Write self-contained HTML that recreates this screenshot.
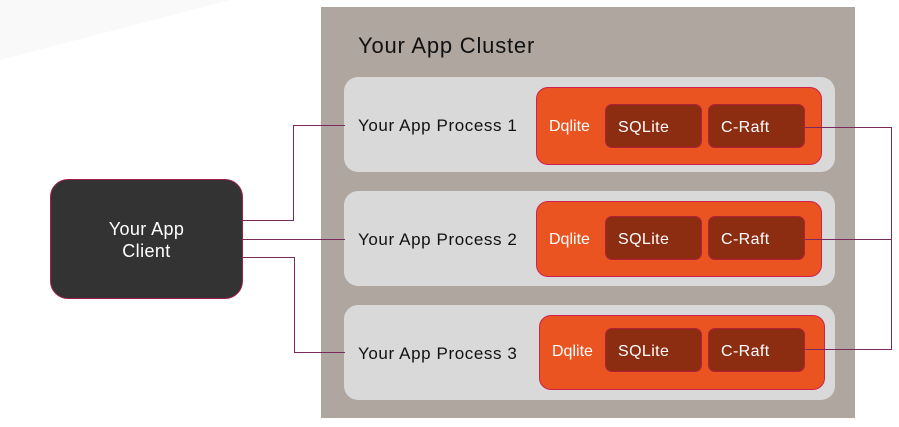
<!DOCTYPE html>
<html><head><style>
body{margin:0;width:899px;height:427px;background:#fff;position:relative;overflow:hidden;font-family:"Liberation Sans",sans-serif}
.a{position:absolute;box-sizing:border-box}
.cl{left:321px;top:7px;width:534px;height:411px;background:#aea69f}
.p{left:344px;width:491px;height:95px;background:#d9d9d9;border-radius:14px}
.pt{font-size:17px;color:#111;left:358px;letter-spacing:0.6px}
.o{width:286px;background:#e95420;border:1px solid #d02050;border-radius:12px}
.b{width:97px;height:44px;background:#8c2d12;border:1px solid #b0203a;border-radius:7px;color:#fff;font-size:16px;line-height:46px;padding-left:12px;letter-spacing:0.4px}
.d{color:#fff;font-size:16px}
</style></head><body>
<svg class="a" style="left:0;top:0" width="899" height="427">
<polygon points="0,0 230,0 0,60" fill="#f9f9f9"/>
</svg>
<div class="a cl"></div>
<div class="a" style="left:358px;top:33px;font-size:22px;color:#111;letter-spacing:0.8px">Your App Cluster</div>
<div class="a p" style="top:77px"></div>
<div class="a p" style="top:191px"></div>
<div class="a p" style="top:305px"></div>
<div class="a pt" style="top:116px">Your App Process 1</div>
<div class="a pt" style="top:230px">Your App Process 2</div>
<div class="a pt" style="top:344px">Your App Process 3</div>
<div class="a o" style="left:536px;top:87px;height:78px"></div>
<div class="a o" style="left:536px;top:201px;height:76px"></div>
<div class="a o" style="left:539px;top:315px;height:75px"></div>
<div class="a d" style="left:549px;top:118px">Dqlite</div>
<div class="a d" style="left:549px;top:231px">Dqlite</div>
<div class="a d" style="left:552px;top:343px">Dqlite</div>
<div class="a b" style="left:605px;top:104px">SQLite</div>
<div class="a b" style="left:708px;top:104px">C-Raft</div>
<div class="a b" style="left:605px;top:216px">SQLite</div>
<div class="a b" style="left:708px;top:216px">C-Raft</div>
<div class="a b" style="left:605px;top:328px">SQLite</div>
<div class="a b" style="left:708px;top:328px">C-Raft</div>
<div class="a" style="left:50px;top:179px;width:193px;height:120px;background:#333;border:1px solid #a0204a;border-radius:18px;color:#fff;font-size:18px;text-align:center;padding-top:38px;line-height:22px;letter-spacing:0.4px">Your App<br>Client</div>
<svg class="a" style="left:0;top:0" width="899" height="427" fill="none" stroke="#7a2a5a" stroke-width="1">
<polyline points="243,220.5 293.5,220.5 293.5,125.5 345,125.5"/>
<polyline points="243,239.5 345,239.5"/>
<polyline points="243,257.5 294.5,257.5 294.5,352.5 345,352.5"/>
<polyline points="805,127.5 891.5,127.5 891.5,349.5 805,349.5"/>
<polyline points="805,239.5 891.5,239.5"/>
</svg>
</body></html>
